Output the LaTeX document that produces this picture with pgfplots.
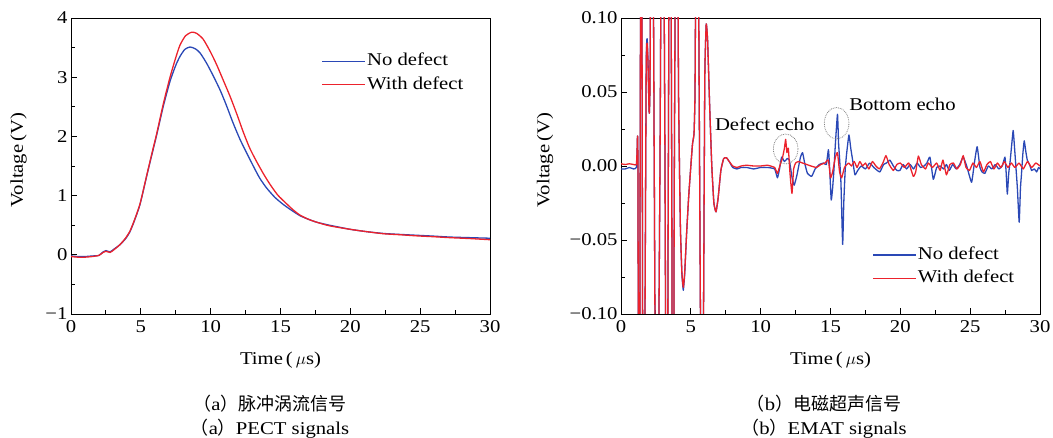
\documentclass[border=0pt]{standalone}
\usepackage{fontspec}
\setmainfont[FakeStretch=1.15]{Liberation Serif}
\newfontfamily\cjk{Noto Sans CJK SC}
\usepackage{pgfplots}
\pgfplotsset{compat=1.18}

\definecolor{noblue}{RGB}{42,72,182}
\definecolor{withred}{RGB}{236,34,44}
\newcommand\figfont{\fontsize{18bp}{21bp}\selectfont}

% PECT responses
\pgfplotstableread{
t v
0.0 -0.02
0.5 -0.03
1.0 -0.03
1.5 -0.02
2.0 -0.01
2.3 0.05
2.5 0.07
2.8 0.05
3.1 0.10
3.5 0.17
3.9 0.27
4.2 0.38
4.5 0.55
4.94 0.85
5.42 1.33
5.8 1.70
6.13 2.02
6.61 2.51
7.09 2.93
7.5 3.20
7.8 3.35
8.15 3.47
8.52 3.51
8.9 3.48
9.24 3.41
9.7 3.24
10.19 3.02
10.7 2.77
11.15 2.51
11.6 2.23
12.1 1.95
12.6 1.71
13.05 1.50
13.5 1.30
14.0 1.13
14.6 0.97
15.2 0.85
15.8 0.75
16.4 0.66
17.0 0.60
17.6 0.55
18.5 0.50
20.0 0.43
21.2 0.39
22.4 0.36
23.5 0.345
24.75 0.33
26.0 0.315
27.1 0.30
28.5 0.29
30.0 0.28
}\pectno

\pgfplotstableread{
t v
0.0 -0.03
0.5 -0.04
1.0 -0.04
1.5 -0.03
2.0 -0.01
2.3 0.04
2.5 0.06
2.8 0.04
3.1 0.09
3.5 0.17
3.9 0.28
4.2 0.39
4.5 0.56
4.94 0.86
5.42 1.34
5.8 1.72
6.13 2.04
6.61 2.55
7.09 3.00
7.5 3.33
7.8 3.54
8.2 3.70
8.64 3.76
9.0 3.74
9.47 3.64
10.0 3.42
10.43 3.21
10.9 2.95
11.4 2.67
11.9 2.36
12.34 2.07
12.8 1.80
13.3 1.57
13.8 1.36
14.25 1.19
14.8 1.01
15.4 0.87
15.9 0.76
16.4 0.67
17.0 0.60
17.6 0.55
18.5 0.49
20.0 0.43
21.2 0.39
22.4 0.355
23.5 0.34
24.75 0.32
26.0 0.305
27.1 0.29
28.5 0.275
30.0 0.255
}\pectwith

% EMAT responses
\pgfplotstableread{
t v
0.0 -0.002
0.3 -0.002
0.6 -0.001
0.9 -0.002
1.10 -0.001
1.15 0.010
1.18 0.020
1.21 0.003
1.30 -0.30
1.45 0.30
1.60 -0.30
1.80 0.062
1.87 0.086
1.93 0.072
2.00 0.040
2.03 0.036
2.08 0.060
2.22 0.30
2.38 0.00
2.55 -0.30
2.79 0.00
2.97 0.30
3.15 0.00
3.27 -0.30
3.39 0.00
3.51 0.30
3.63 0.00
3.72 -0.30
3.82 0.00
3.98 0.28
4.12 0.05
4.25 -0.040
4.36 -0.073
4.46 -0.084
4.56 -0.073
4.70 -0.045
4.85 -0.020
5.00 0.000
5.12 0.015
5.23 0.022
5.30 0.050
5.36 0.150
5.46 0.280
5.58 0.080
5.70 -0.120
5.82 -0.250
5.92 -0.080
6.00 0.060
6.10 0.096
6.20 0.085
6.35 0.040
6.50 0.000
6.65 -0.025
6.80 -0.031
6.95 -0.022
7.15 -0.003
7.35 0.005
7.55 0.0056
7.75 0.003
8.0 -0.001
8.3 -0.002
8.6 -0.001
9.0 -0.001
9.5 -0.002
10.0 -0.001
10.5 -0.001
11.0 -0.002
11.2 -0.008
11.35 -0.002
11.5 0.006
11.7 0.003
11.9 0.005
12.05 0.004
12.25 -0.008
12.4 -0.013
12.6 -0.006
12.85 0.006
13.0 0.009
13.15 0.002
13.35 -0.005
13.65 -0.007
13.9 -0.002
14.2 0.001
14.5 0.002
14.7 0.001
14.85 0.011
14.92 0.002
15.05 -0.023
15.15 -0.015
15.25 -0.002
15.35 0.015
15.5 0.035
15.58 0.015
15.65 0.005
15.75 -0.012
15.87 -0.053
15.95 -0.025
16.05 -0.003
16.15 0.008
16.32 0.021
16.45 0.012
16.6 0.003
16.75 -0.006
16.95 -0.003
17.2 0.000
17.5 -0.002
17.8 0.002
18.1 -0.001
18.35 -0.003
18.54 -0.004
18.8 0.001
19.0 0.002
19.25 0.004
19.5 0.000
19.75 -0.003
19.97 -0.003
20.2 0.001
20.45 -0.002
20.7 0.001
20.95 -0.002
21.2 0.002
21.45 -0.001
21.7 0.000
21.9 0.002
22.12 0.006
22.36 -0.009
22.6 -0.001
22.85 0.000
23.1 -0.002
23.3 0.001
23.5 -0.003
23.75 0.001
24.0 -0.002
24.25 0.001
24.5 0.006
24.75 0.000
25.1 -0.011
25.3 0.002
25.5 0.013
25.7 -0.001
25.85 -0.004
26.05 -0.005
26.3 0.000
26.55 -0.002
26.8 0.001
27.05 -0.002
27.3 0.000
27.49 0.006
27.58 -0.005
27.66 -0.019
27.76 -0.005
27.87 0.004
27.98 0.015
28.08 0.024
28.18 0.012
28.27 0.000
28.38 -0.015
28.51 -0.038
28.60 -0.015
28.67 -0.006
28.77 0.008
28.87 0.017
28.98 0.010
29.09 0.004
29.25 0.001
29.4 -0.003
29.6 -0.002
29.76 -0.004
29.9 -0.001
30.0 -0.002
}\ematno

\pgfplotstableread{
t v
0.0 0.0015
0.3 0.001
0.6 0.0015
0.9 0.001
1.10 0.001
1.15 0.010
1.18 0.020
1.21 0.003
1.30 -0.30
1.45 0.30
1.60 -0.30
1.80 0.060
1.87 0.083
1.93 0.070
2.00 0.040
2.03 0.036
2.08 0.060
2.22 0.30
2.38 0.00
2.55 -0.30
2.79 0.00
2.97 0.30
3.15 0.00
3.27 -0.30
3.39 0.00
3.51 0.30
3.63 0.00
3.72 -0.30
3.82 0.00
3.98 0.28
4.12 0.05
4.25 -0.040
4.36 -0.072
4.46 -0.082
4.56 -0.072
4.70 -0.045
4.85 -0.020
5.00 0.000
5.12 0.015
5.23 0.022
5.30 0.050
5.36 0.150
5.46 0.280
5.58 0.080
5.70 -0.120
5.82 -0.250
5.92 -0.080
6.00 0.060
6.10 0.096
6.20 0.085
6.35 0.040
6.50 0.000
6.65 -0.025
6.80 -0.031
6.95 -0.022
7.15 -0.003
7.35 0.005
7.55 0.0056
7.75 0.003
8.0 0.000
8.3 -0.001
8.6 0.000
9.0 0.0005
9.5 0.000
10.0 0.000
10.5 0.0005
11.0 -0.001
11.2 -0.005
11.4 0.001
11.55 0.005
11.7 0.012
11.79 0.018
11.88 0.009
11.98 0.012
12.1 -0.005
12.24 -0.0185
12.36 -0.002
12.5 0.002
12.7 0.003
13.0 0.002
13.3 0.001
13.6 0.000
14.0 -0.001
14.3 0.001
14.6 0.002
14.85 0.004
15.0 -0.008
15.15 -0.004
15.35 0.006
15.5 0.009
15.65 -0.004
15.8 -0.008
16.0 -0.001
16.3 0.002
16.5 0.000
16.7 0.003
16.9 -0.001
17.1 0.003
17.3 0.000
17.5 0.002
17.75 -0.002
18.0 0.003
18.25 0.000
18.5 -0.002
18.75 0.002
18.97 0.007
19.2 0.001
19.5 -0.003
19.75 0.001
20.0 0.002
20.3 -0.001
20.6 0.002
20.93 -0.007
21.1 -0.004
21.29 0.0067
21.5 0.001
21.8 -0.002
22.0 0.002
22.3 -0.001
22.6 0.002
22.85 -0.003
23.05 0.004
23.3 -0.006
23.55 0.001
23.8 0.002
24.05 -0.002
24.3 0.001
24.5 0.007
24.7 -0.001
24.95 -0.003
25.2 0.002
25.45 -0.001
25.7 0.003
25.95 -0.004
26.2 0.001
26.45 0.003
26.7 -0.002
26.95 0.002
27.2 -0.001
27.45 0.003
27.7 -0.001
27.95 0.002
28.2 -0.001
28.5 0.002
28.8 -0.002
29.1 0.003
29.4 -0.001
29.7 0.002
30.0 0.000
}\ematwith

\pgfplotsset{
  sigaxis/.style={
    scale only axis,
    width=419bp, height=296bp,
    xmin=0, xmax=30,
    xtick={0,5,...,30},
    minor x tick num=1,
    minor y tick num=1,
    tick align=inside,
    tick pos=left,
    major tick length=6bp,
    minor tick length=3.5bp,
    every tick/.style={black, line width=0.9bp},
    axis line style={line width=0.9bp},
    /pgf/number format/assume math mode=true,
    tick label style={font=\figfont},
    label style={font=\figfont},
    xticklabel style={yshift=-3bp},
    xlabel={Time\,(\,$\mu$s)},
    xlabel style={at={(axis description cs:0.5,0)}, anchor=center, yshift=-46bp},
    ylabel={Voltage\,(V)},
    legend cell align=left,
    legend image code/.code={\draw[#1] (0bp,0bp) -- (43bp,0bp);},
  },
}

\begin{document}
\begin{tikzpicture}
\path[use as bounding box] (0,0) rectangle (1053bp,438bp);

% (a) pulsed eddy current
\begin{axis}[sigaxis,
  at={(71bp,124bp)}, anchor=south west,
  ymin=-1, ymax=4,
  ytick={-1,0,1,2,3,4},
  yticklabels={−1,0,1,2,3,4},
  ylabel style={at={(axis description cs:-0.1253,0.52)}, anchor=center},
  legend style={at={(axis description cs:0.598,0.886)}, anchor=north west,
    draw=none, fill=none, inner sep=0pt, font=\figfont, row sep=4.4bp,
    nodes={inner sep=1bp, text height=13bp, text depth=4bp}},
]
\addplot[noblue, line width=1.3bp, smooth, tension=0.4] table[x=t, y=v] {\pectno};
\addlegendentry{No defect}
\addplot[withred, line width=1.3bp, smooth, tension=0.4] table[x=t, y=v] {\pectwith};
\addlegendentry{With defect}
\end{axis}

% (b) electromagnetic acoustic
\begin{axis}[sigaxis,
  at={(621bp,124bp)}, anchor=south west,
  ymin=-0.1, ymax=0.1,
  ytick={-0.1,-0.05,0,0.05,0.1},
  yticklabels={−0.10,−0.05,0.00,0.05,0.10},
  ylabel style={at={(axis description cs:-0.1814,0.52)}, anchor=center},
  legend style={at={(axis description cs:0.600,0.232)}, anchor=north west,
    draw=none, fill=none, inner sep=0pt, font=\figfont, row sep=4.4bp,
    nodes={inner sep=1bp, text height=13bp, text depth=4bp}},
]
\addplot[noblue, line width=1.3bp, smooth, tension=0.25, line join=round] table[x=t, y=v] {\ematno};
\addlegendentry{No defect}
\addplot[withred, line width=1.3bp, smooth, tension=0.25, line join=round] table[x=t, y=v] {\ematwith};
\addlegendentry{With defect}
\draw[gray, densely dotted, line width=0.8bp] (axis cs:11.79,0.0115) ellipse [x radius=12.3bp, y radius=15bp];
\draw[gray, densely dotted, line width=0.8bp] (axis cs:15.44,0.0289) ellipse [x radius=12.3bp, y radius=15.7bp];
\node[font=\figfont, inner sep=0pt] at (axis cs:10.29,0.028) {Defect echo};
\node[font=\figfont, inner sep=0pt] at (axis cs:20.15,0.0419) {Bottom echo};
\end{axis}

% sub-figure captions
\node[font=\figfont, inner sep=0pt] at (270bp,34.5bp) {{\cjk （}a{\cjk ）脉冲涡流信号}};
\node[font=\figfont, inner sep=0pt] at (270bp,9bp) {{\cjk （}a{\cjk ）}PECT signals};
\node[font=\figfont, inner sep=0pt] at (824bp,34.5bp) {{\cjk （}b{\cjk ）电磁超声信号}};
\node[font=\figfont, inner sep=0pt] at (824bp,9bp) {{\cjk （}b{\cjk ）}EMAT signals};
\end{tikzpicture}
\end{document}
